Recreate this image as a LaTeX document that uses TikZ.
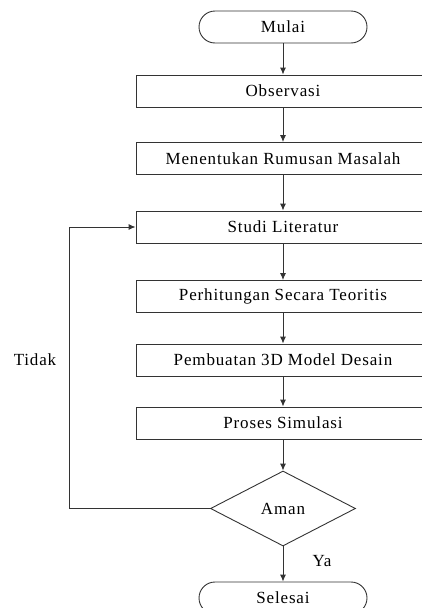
\documentclass[tikz,border=0pt]{standalone}
\usepackage{fontspec}
\setmainfont{Liberation Serif}[LetterSpace=5]
\usetikzlibrary{shapes.geometric,arrows.meta}
\begin{document}
\begin{tikzpicture}[x=1pt,y=1pt,
  line width=0.9pt,
  every node/.style={font=\fontsize{17}{19}\selectfont, text=black},
  lineclr/.style={draw=black!80},
  term/.style={lineclr, rectangle, rounded corners=16pt, minimum width=168pt, minimum height=32pt, inner sep=0pt},
  procbox/.style={lineclr, rectangle, minimum width=294pt, minimum height=32pt, inner sep=0pt},
  decide/.style={lineclr, diamond, minimum width=145pt, minimum height=75pt, inner sep=0pt, aspect=1.93},
  flow/.style={lineclr, -{Latex[length=7pt,width=6pt]}},
  lbl/.style={inner sep=0pt}
]
\useasboundingbox (0,0) rectangle (422,-608);
\clip (0,0) rectangle (422,-608);
\node[term] (mulai) at (283,-27) {Mulai};
\node[procbox] (obs) at (283,-91) {Observasi};
\node[procbox] (rum) at (283,-158.5) {Menentukan Rumusan Masalah};
\node[procbox] (studi) at (283,-227) {Studi Literatur};
\node[procbox] (hit) at (283,-296.5) {Perhitungan Secara Teoritis};
\node[procbox] (model) at (283,-360) {Pembuatan 3D Model Desain};
\node[procbox] (sim) at (283,-423) {Proses Simulasi};
\node[decide] (aman) at (283,-508.5) {Aman};
\node[term] (selesai) at (283,-598) {Selesai};
\node[lbl] (tidak) at (35,-360) {Tidak};
\node[lbl] (ya) at (322,-561) {Ya};
\coordinate (fb1) at (69,-508.5);
\coordinate (fb2) at (69,-227);

\draw[flow] (mulai) -- (obs);
\draw[flow] (obs) -- (rum);
\draw[flow] (rum) -- (studi);
\draw[flow] (studi) -- (hit);
\draw[flow] (hit) -- (model);
\draw[flow] (model) -- (sim);
\draw[flow] (sim) -- (aman);
\draw[flow] (aman) -- (selesai);
\draw[flow] (aman.west) -- (fb1) -- (fb2) -- (studi.west);
\end{tikzpicture}
\end{document}
